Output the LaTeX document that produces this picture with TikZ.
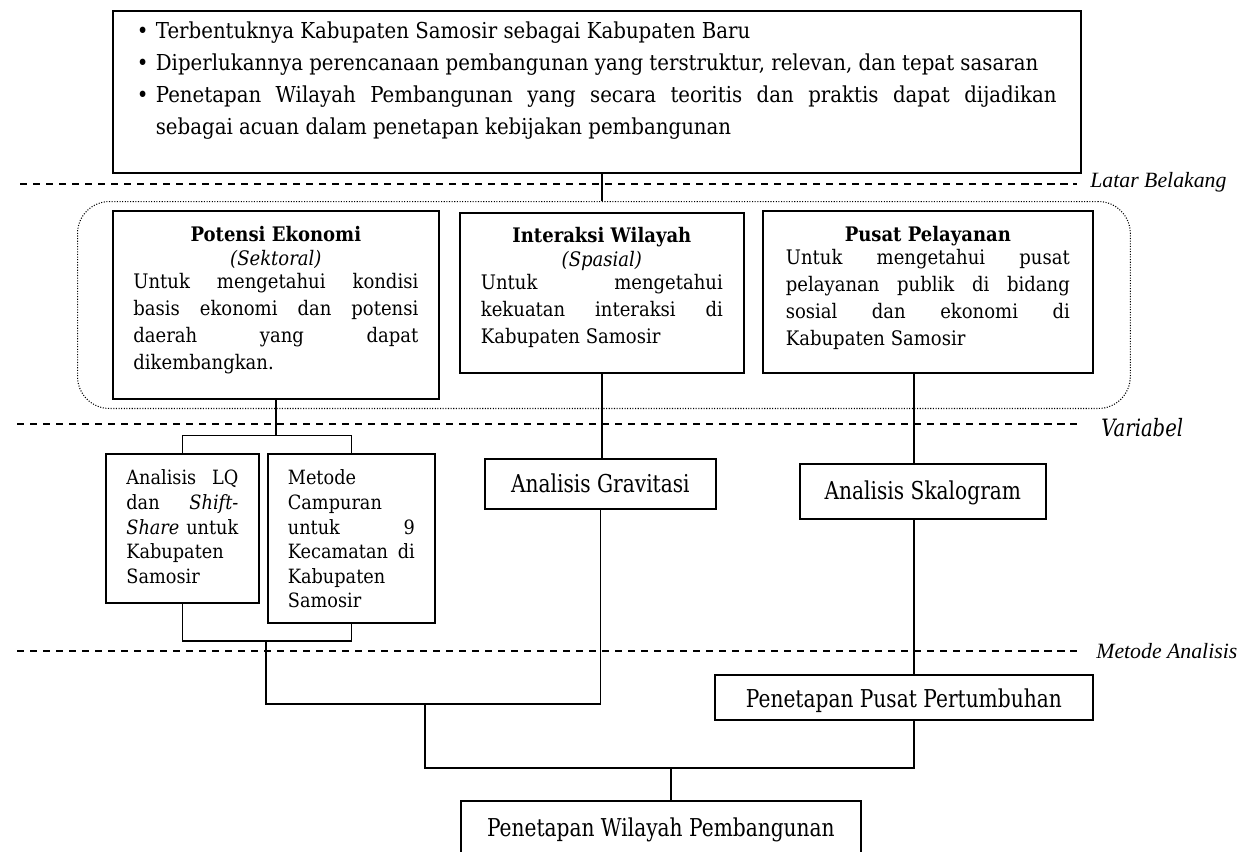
\documentclass[tikz,border=0pt]{standalone}
\usepackage{fontspec}
\setmainfont{DejaVu Serif}[FakeStretch=0.9]
\newfontfamily\sempit{DejaVu Serif}[FakeStretch=0.82]
\newfontfamily\tnr{Liberation Serif}
\hyphenpenalty=10000
\exhyphenpenalty=10000
\tolerance=10000

\newcommand{\butir}[1]{\hangindent=10.8pt\hangafter=1\noindent\hbox to 10.8pt{\textbullet\hss}#1\par}
\newcommand{\judul}[1]{{\centering\bfseries #1\par}}
\newcommand{\subjudul}[1]{{\centering\itshape #1\par}}

\tikzstyle{kotak}=[draw=black, line width=1pt, inner ysep=0pt, anchor=north west, align=justify, font=\fontsize{11.4}{15.3}\selectfont]
\tikzstyle{analisis}=[draw=black, line width=1pt, inner sep=0pt, anchor=north west, font=\sempit\fontsize{14}{16}\selectfont]
\tikzstyle{hubung}=[line width=0.8pt]
\tikzstyle{batas}=[line width=0.8pt, dash pattern=on 4.2pt off 3.2pt]
\tikzstyle{grup}=[draw=black, line width=0.6pt, dash pattern=on 0.6pt off 0.9pt, rounded corners=0.64cm, inner sep=0pt, anchor=north west]
\tikzstyle{ket}=[anchor=west, inner sep=0pt, font=\tnr\itshape\fontsize{12.4}{15}\selectfont]

\begin{document}
\begin{tikzpicture}[x=0.02cm, y=-0.02cm]
    \useasboundingbox (0,0) rectangle (1251,852);

    % garis batas tiap tahap
    \draw[batas] (20,184) -- (1077,184);
    \draw[batas] (17,424) -- (1077,424);
    \draw[batas] (17,651) -- (1077,651);
    \node (ketLatar) at (1090,182) [ket] {Latar Belakang};
    \node (ketVariabel) at (1101,428) [ket, font=\sempit\itshape\fontsize{13.6}{15}\selectfont] {Variabel};
    \node (ketMetode) at (1096,651) [ket] {Metode Analisis};

    \node (kelompok) at (77,201) [grup, minimum width=21.06cm, minimum height=4.14cm] {};

    \node (latar) at (112,10) [kotak, text width=18.4cm, inner xsep=0.48cm, text height=0.56cm, text depth=2.68cm, font=\fontsize{12.5}{18.1}\selectfont]
        {\butir{Terbentuknya Kabupaten Samosir sebagai Kabupaten Baru}%
         \butir{Diperlukannya perencanaan pembangunan yang terstruktur, relevan, dan tepat sasaran}%
         \butir{Penetapan Wilayah Pembangunan yang secara teoritis dan praktis dapat dijadikan\linebreak sebagai acuan dalam penetapan kebijakan pembangunan}};

    \node (potensi) at (112,210) [kotak, text width=5.7cm, inner xsep=0.41cm, text height=0.62cm, text depth=3.14cm]
        {\judul{Potensi Ekonomi}\vspace{-1.7pt}\subjudul{(Sektoral)}\vspace{-2.3pt}%
         Untuk mengetahui kondisi\linebreak basis ekonomi dan potensi\linebreak daerah yang dapat\linebreak dikembangkan.};
    \node (interaksi) at (459,212) [kotak, text width=4.84cm, inner xsep=0.42cm, text height=0.6cm, text depth=2.6cm]
        {\judul{Interaksi Wilayah}\vspace{-1.7pt}\subjudul{(Spasial)}\vspace{-2.3pt}%
         Untuk mengetahui\linebreak kekuatan interaksi di\linebreak Kabupaten Samosir};
    \node (pelayanan) at (762,210) [kotak, text width=5.68cm, inner xsep=0.46cm, text height=0.62cm, text depth=2.62cm]
        {\judul{Pusat Pelayanan}\vspace{-2.3pt}%
         Untuk mengetahui pusat\linebreak pelayanan publik di bidang\linebreak sosial dan ekonomi di\linebreak Kabupaten Samosir};

    \node (lq) at (105,453) [kotak, text width=2.24cm, inner xsep=0.41cm, text height=0.62cm, text depth=2.36cm, font=\fontsize{11.2}{14}\selectfont]
        {Analisis LQ\linebreak dan \textit{Shift-}\linebreak \textit{Share} untuk\linebreak Kabupaten\newline Samosir};
    \node (campuran) at (267,453) [kotak, text width=2.54cm, inner xsep=0.4cm, text height=0.62cm, text depth=2.76cm, font=\fontsize{11.2}{14}\selectfont]
        {Metode\newline Campuran\newline untuk 9\linebreak Kecamatan di\linebreak Kabupaten\newline Samosir};
    \node (gravitasi) at (484,458) [analisis, minimum width=4.62cm, text height=0.68cm, text depth=0.32cm] {Analisis Gravitasi};
    \node (skalogram) at (799,463) [analisis, minimum width=4.92cm, text height=0.72cm, text depth=0.38cm] {Analisis Skalogram};
    \node (tumbuh) at (714,674) [analisis, minimum width=7.56cm, text height=0.66cm, text depth=0.24cm] {Penetapan Pusat Pertumbuhan};
    \node (wilayah) at (460,800) [analisis, minimum width=8cm, text height=0.72cm, text depth=0.8cm] {Penetapan Wilayah Pembangunan};

    % penghubung
    \coordinate (sumbu) at (914,0);
    \coordinate (gabung1) at (266,641);
    \coordinate (gabung2) at (425,704);
    \coordinate (gabung3) at (671,768);

    \draw[hubung] (latar.south -| interaksi.north) -- (kelompok.north -| interaksi.north);
    \draw[hubung] (potensi.south) -- ++(0,36) coordinate (cabang1);
    \draw[hubung] (cabang1) -| (lq.north);
    \draw[hubung] (cabang1) -| (campuran.north);
    \draw[hubung] (lq.south) |- (gabung1) -| (campuran.south);
    \draw[hubung] (gabung1) -- ++(0,63) -| (gravitasi.south);
    \draw[hubung] (interaksi.south) -- (interaksi.south |- gravitasi.north);
    \draw[hubung] (pelayanan.south -| sumbu) -- (skalogram.north -| sumbu);
    \draw[hubung] (skalogram.south -| sumbu) -- (tumbuh.north -| sumbu);
    \draw[hubung] (gabung2) -- ++(0,64) -| (tumbuh.south -| sumbu);
    \draw[hubung] (gabung3) -- (gabung3 |- wilayah.north);
\end{tikzpicture}
\end{document}
